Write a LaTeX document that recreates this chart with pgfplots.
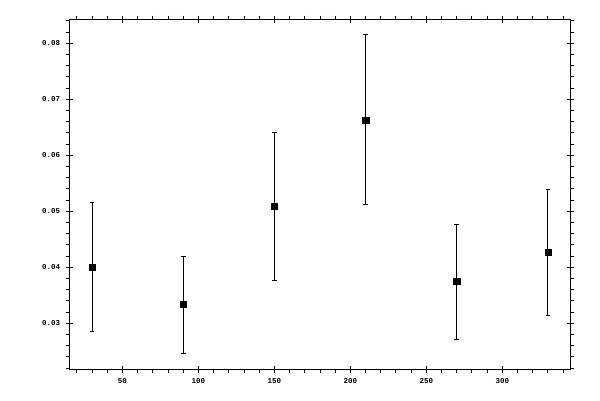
\documentclass[border=0pt]{standalone}
\usepackage{pgfplots}
\pgfplotsset{compat=1.18}
\usepackage{fontspec}
\setmainfont{Liberation Mono}

\begin{document}
\begin{tikzpicture}
\useasboundingbox (-69.3pt,-30.7pt) rectangle (530.7pt,369.3pt);
\begin{axis}[
    at={(0,0)}, anchor=south west,
    scale only axis,
    width=501.4pt, height=350pt,
    xmin=15, xmax=345,
    ymin=0.02179, ymax=0.08429,
    axis line style={line width=1pt},
    xtick={50,100,150,200,250,300},
    ytick={0.03,0.04,0.05,0.06,0.07,0.08},
    minor xtick={20,30,40,60,70,80,90,110,120,130,140,160,170,180,190,210,220,230,240,260,270,280,290,310,320,330,340},
    minor ytick={0.022,0.024,0.026,0.028,0.032,0.034,0.036,0.038,0.042,0.044,0.046,0.048,0.052,0.054,0.056,0.058,0.062,0.064,0.066,0.068,0.072,0.074,0.076,0.078,0.082,0.084},
    tick align=outside,
    major tick length=3.6pt,
    minor tick length=3.6pt,
    tick style={line width=1pt, black},
    xtick pos=both, ytick pos=both,
    xticklabel pos=lower, yticklabel pos=left,
    extra x ticks={50,100,150,200,250,300},
    extra x tick labels={},
    extra y ticks={0.03,0.04,0.05,0.06,0.07,0.08},
    extra y tick labels={},
    extra tick style={tick align=inside},
    tick label style={font=\fontsize{7.5}{8}\selectfont\bfseries},
    /pgf/number format/assume math mode=true,
    y tick label style={/pgf/number format/fixed, /pgf/number format/fixed zerofill, /pgf/number format/precision=2, xshift=-2pt},
    x tick label style={yshift=-2pt},
    scaled y ticks=false,
]
\addplot[only marks, mark=square*, mark size=3.2pt, black,
    error bars/.cd, y dir=both, y explicit,
    error bar style={line width=1pt, black},
    error mark options={rotate=90, mark size=2.4pt, line width=1pt, black}]
    table[x=x, y=y, y error plus=ep, y error minus=em] {
x   y      ep     em
30  0.0400 0.0116 0.0114
90  0.0334 0.0086 0.0088
150 0.0509 0.0132 0.0132
210 0.0663 0.0152 0.0150
270 0.0375 0.0102 0.0104
330 0.0427 0.0112 0.0113
};
\end{axis}
\end{tikzpicture}
\end{document}
